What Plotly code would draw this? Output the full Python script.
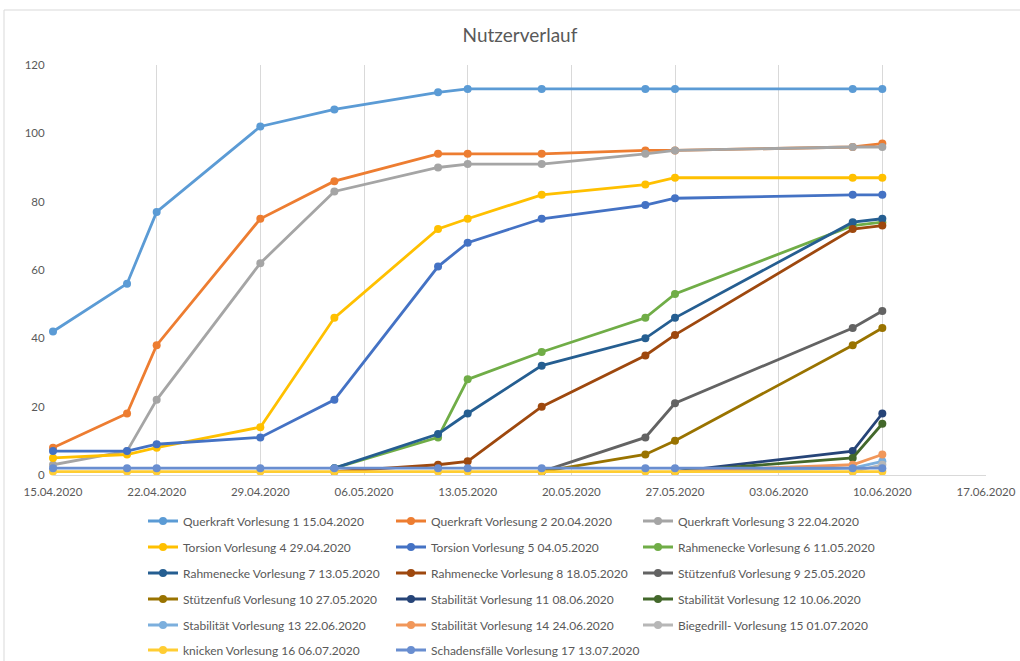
import plotly.graph_objects as go

dates = ["2020-04-15", "2020-04-20", "2020-04-22", "2020-04-29", "2020-05-04", "2020-05-11",
         "2020-05-13", "2020-05-18", "2020-05-25", "2020-05-27", "2020-06-08", "2020-06-10"]

names = [
    "Querkraft Vorlesung 1 15.04.2020",
    "Querkraft Vorlesung 2 20.04.2020",
    "Querkraft Vorlesung 3 22.04.2020",
    "Torsion Vorlesung 4 29.04.2020",
    "Torsion Vorlesung 5 04.05.2020",
    "Rahmenecke Vorlesung 6 11.05.2020",
    "Rahmenecke Vorlesung 7 13.05.2020",
    "Rahmenecke Vorlesung 8 18.05.2020",
    "Stützenfuß Vorlesung 9 25.05.2020",
    "Stützenfuß Vorlesung 10 27.05.2020",
    "Stabilität Vorlesung 11 08.06.2020",
    "Stabilität Vorlesung 12 10.06.2020",
    "Stabilität Vorlesung 13 22.06.2020",
    "Stabilität Vorlesung 14 24.06.2020",
    "Biegedrill- Vorlesung 15 01.07.2020",
    "knicken Vorlesung 16 06.07.2020",
    "Schadensfälle Vorlesung 17 13.07.2020",
]

N = None
querkraft_1 = [42, 56, 77, 102, 107, 112, 113, 113, 113, 113, 113, 113]
querkraft_2 = [8, 18, 38, 75, 86, 94, 94, 94, 95, 95, 96, 97]
querkraft_3 = [3, 7, 22, 62, 83, 90, 91, 91, 94, 95, 96, 96]
torsion_4 = [5, 6, 8, 14, 46, 72, 75, 82, 85, 87, 87, 87]
torsion_5 = [7, 7, 9, 11, 22, 61, 68, 75, 79, 81, 82, 82]
rahmenecke_6 = [N, N, N, N, 2, 11, 28, 36, 46, 53, 73, 74]
rahmenecke_7 = [N, N, N, N, 2, 12, 18, 32, 40, 46, 74, 75]
rahmenecke_8 = [N, N, N, N, 1, 3, 4, 20, 35, 41, 72, 73]
stuetzenfuss_9 = [N, N, N, N, N, N, N, 1, 11, 21, 43, 48]
stuetzenfuss_10 = [N, N, N, N, N, N, N, 1, 6, 10, 38, 43]
stabilitaet_11 = [N, N, N, N, N, N, N, N, N, 1, 7, 18]
stabilitaet_12 = [N, N, N, N, N, N, N, N, N, 1, 5, 15]
stabilitaet_13 = [N, N, N, N, N, N, N, N, N, 1, 2, 4]
stabilitaet_14 = [N, N, N, N, N, N, N, N, N, 1, 3, 6]
biegedrill_15 = [N, N, N, N, N, N, N, N, N, N, 1, 3]
knicken_16 = [1, 1, 1, 1, 1, 1, 1, 1, 1, 1, 1, 1]
schadensfaelle_17 = [2, 2, 2, 2, 2, 2, 2, 2, 2, 2, 2, 2]

series = [querkraft_1, querkraft_2, querkraft_3, torsion_4, torsion_5, rahmenecke_6,
          rahmenecke_7, rahmenecke_8, stuetzenfuss_9, stuetzenfuss_10, stabilitaet_11,
          stabilitaet_12, stabilitaet_13, stabilitaet_14, biegedrill_15, knicken_16,
          schadensfaelle_17]

colors = ["#5B9BD5", "#ED7D31", "#A5A5A5", "#FFC000", "#4472C4", "#70AD47",
          "#255E91", "#9E480E", "#636363", "#997300", "#264478", "#43682B",
          "#7CAFDD", "#F1975A", "#B7B7B7", "#FFCD33", "#698ED0"]

x_tickvals = ["2020-04-15", "2020-04-22", "2020-04-29", "2020-05-06", "2020-05-13",
              "2020-05-20", "2020-05-27", "2020-06-03", "2020-06-10", "2020-06-17"]
x_ticktext = ["15.04.2020", "22.04.2020", "29.04.2020", "06.05.2020", "13.05.2020",
              "20.05.2020", "27.05.2020", "03.06.2020", "10.06.2020", "17.06.2020"]

FONT = "Lato"
GREY = "#595959"

def legend_key(i):
    return "legend" if i == 0 else f"legend{i + 1}"

fig = go.Figure()
for i, (name, vals, col) in enumerate(zip(names, series, colors)):
    fig.add_trace(go.Scatter(
        x=dates, y=vals, name=name, mode="lines+markers",
        line=dict(color=col, width=2.8),
        marker=dict(color=col, size=8),
        legend=legend_key(i),
        connectgaps=False,
        cliponaxis=False,
        showlegend=True,
    ))

W, H = 1020, 661
L, R, T, B = 53, 34, 65, 186
pw = W - L - R
ph = H - T - B

def px_x(p):
    return (p - L) / pw

def px_y(p):
    return (H - B - p) / ph

layout = dict(
    width=W, height=H,
    showlegend=True,
    margin=dict(l=L, r=R, t=T, b=B, autoexpand=False),
    paper_bgcolor="white", plot_bgcolor="white",
    font=dict(family=FONT, color=GREY, size=11),
    title=dict(text="Nutzerverlauf", xref="container", x=520 / W, xanchor="center",
               y=1 - 35 / H, yanchor="middle", automargin=False,
               font=dict(family=FONT, size=19, color=GREY)),
    xaxis=dict(range=["2020-04-15", "2020-06-17"], tickvals=x_tickvals, ticktext=x_ticktext,
               showgrid=True, gridcolor="#D9D9D9", gridwidth=1,
               showline=True, linecolor="#D9D9D9", linewidth=1,
               zeroline=False, ticks="outside", ticklen=6, tickcolor="rgba(0,0,0,0)",
               automargin=False, tickfont=dict(size=11.5, color=GREY)),
    yaxis=dict(range=[0, 120], tickvals=[0, 20, 40, 60, 80, 100, 120],
               showgrid=False, zeroline=False, showline=False,
               ticks="outside", ticklen=5, tickcolor="rgba(0,0,0,0)",
               automargin=False, tickfont=dict(size=11.5, color=GREY)),
    shapes=[dict(type="rect", xref="paper", yref="paper",
                 x0=px_x(4), x1=px_x(1030), y0=px_y(670), y1=px_y(10),
                 line=dict(color="#D9D9D9", width=1), fillcolor="rgba(0,0,0,0)",
                 layer="below")],
)

col_x = [143, 391, 638]
row_y = [521, 547, 573, 599, 625, 650]
for i in range(len(names)):
    layout[legend_key(i)] = dict(
        orientation="v", xref="container", yref="container",
        x=col_x[i % 3] / W, xanchor="left",
        y=1 - row_y[i // 3] / H, yanchor="middle",
        font=dict(family=FONT, size=12, color=GREY),
        bgcolor="rgba(0,0,0,0)", itemclick=False,
    )

fig.update_layout(**layout)
fig.write_html("out.html", config={"displayModeBar": False},
               post_script="document.body.style.margin='0';document.body.style.overflow='hidden';")
